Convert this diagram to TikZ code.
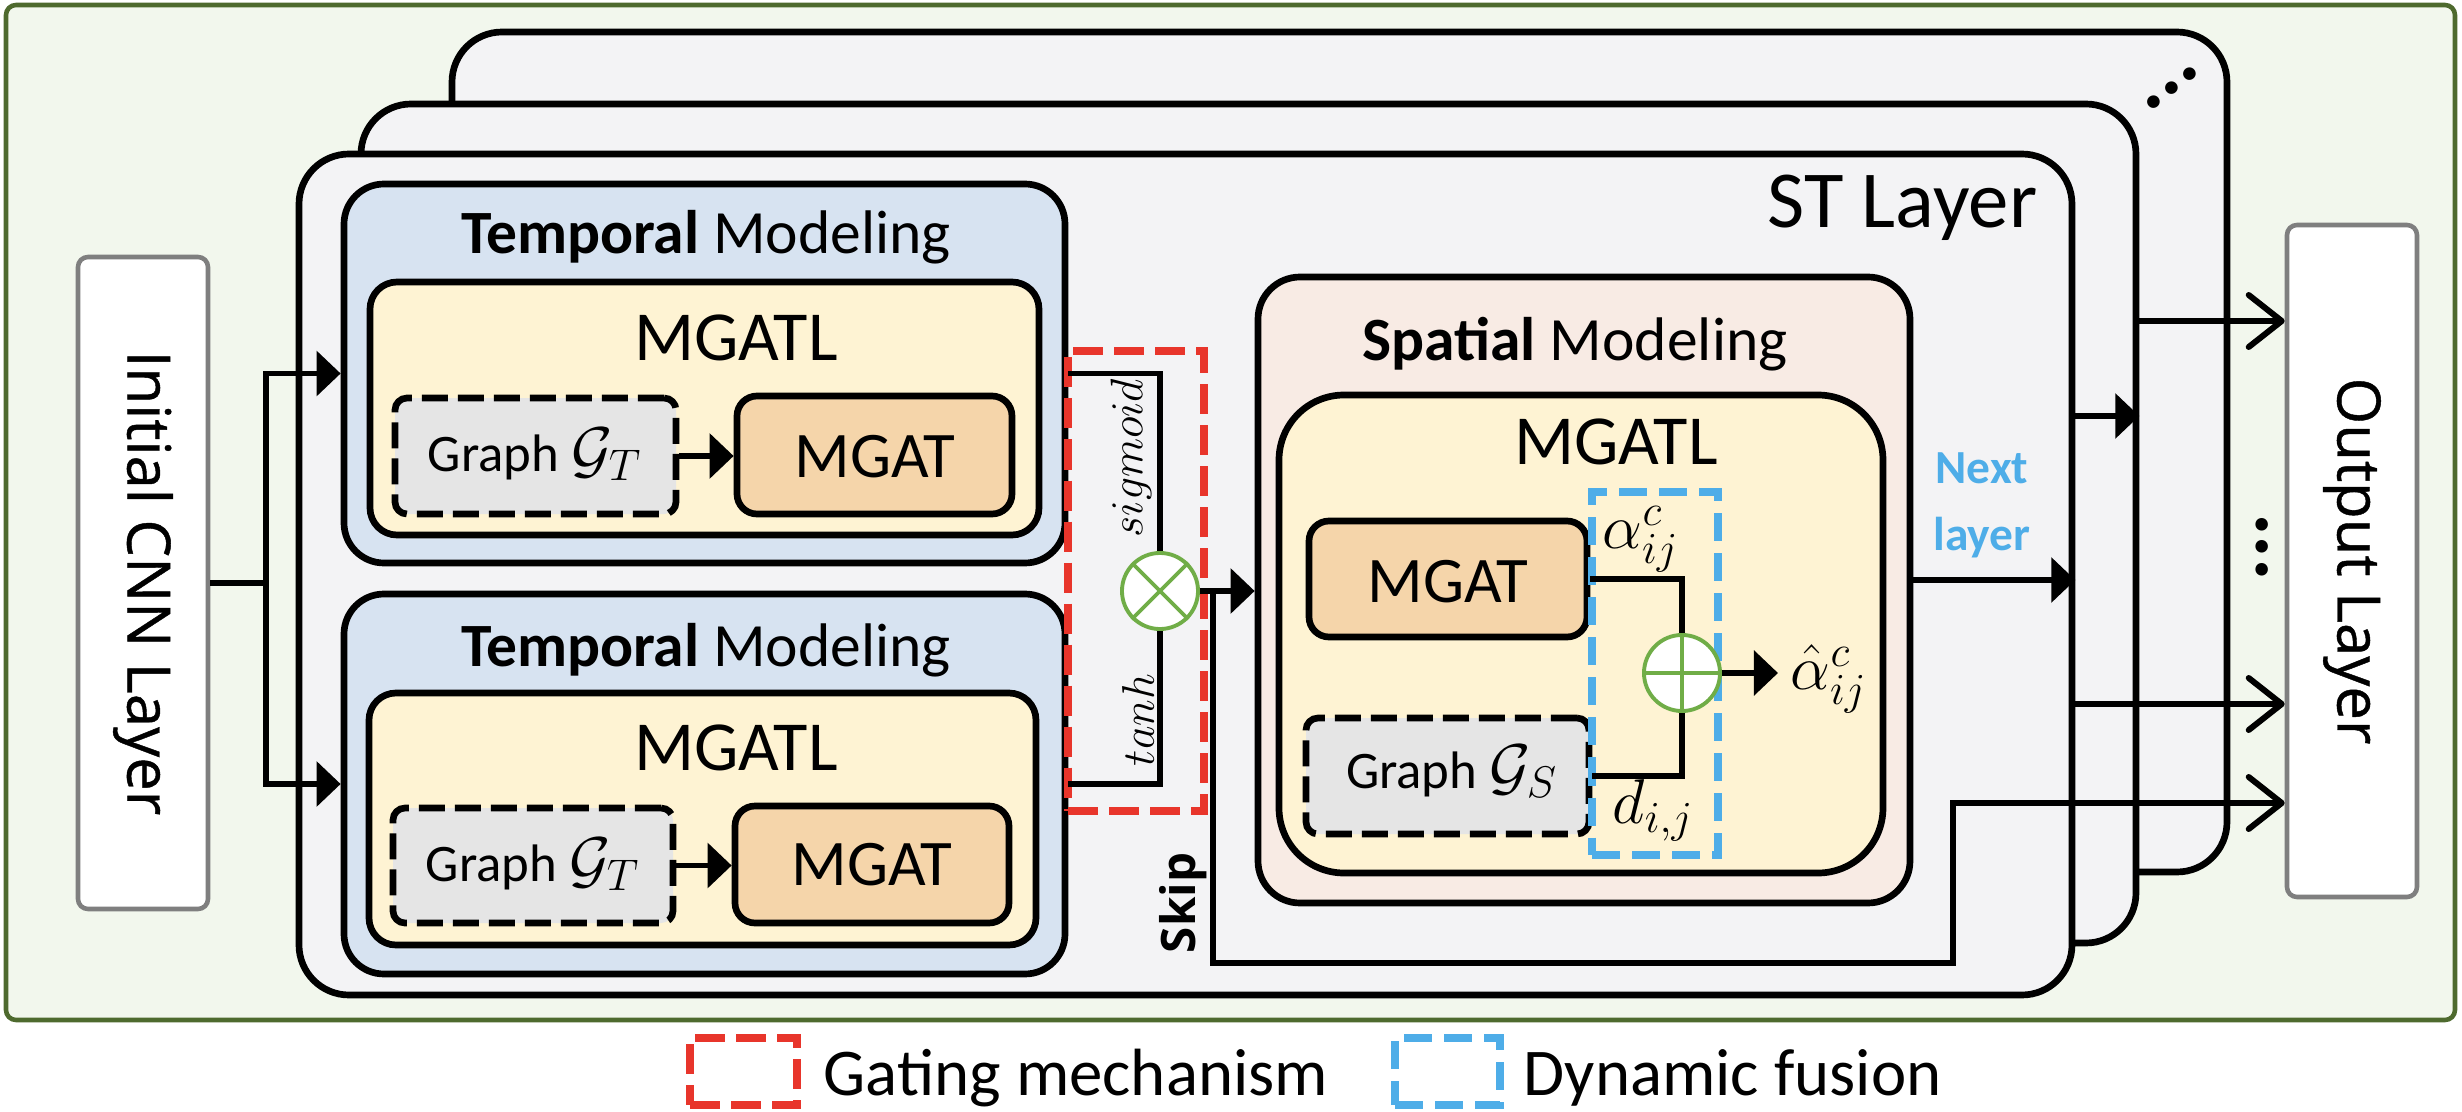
\RequirePackage{fix-cm}
\documentclass[tikz,border=0pt]{standalone}
\usepackage{fontspec}
\setmainfont{Carlito}
\newfontfamily\sidefont[FakeBold=0.7]{Open Sans}
\newfontfamily\skipfont{Open Sans}
\usetikzlibrary{arrows.meta,fit}

\definecolor{bggreen}{HTML}{F2F7ED}
\definecolor{bgborder}{HTML}{4E6A2E}
\definecolor{stgray}{HTML}{F3F3F5}
\definecolor{tempblue}{HTML}{D7E3F1}
\definecolor{mgatlyellow}{HTML}{FEF3D3}
\definecolor{mgatorange}{HTML}{F5D5AA}
\definecolor{graphgray}{HTML}{E5E5E5}
\definecolor{spatialpink}{HTML}{F8EBE4}
\definecolor{gatered}{HTML}{E8352B}
\definecolor{fuseblue}{HTML}{4EADE8}
\definecolor{opgreen}{HTML}{70AD47}
\definecolor{sidegray}{HTML}{7F7F7F}

\newcommand{\graphsym}[1]{{\fontsize{18}{20}\selectfont$\mathcal{G}_{#1}$}}

\begin{document}
\begin{tikzpicture}[x=0.01cm, y=-0.01cm,
    bgbox/.style={draw=bgborder, line width=1.3pt, fill=bggreen, rounded corners=0.1cm, inner sep=0pt},
    sidebox/.style={draw=sidegray, line width=1.3pt, fill=white, rounded corners=0.1cm, inner sep=0pt},
    layerbox/.style={draw=black, line width=1.9pt, fill=stgray, rounded corners=0.5cm, inner sep=0pt},
    tempbox/.style={draw=black, line width=1.9pt, fill=tempblue, rounded corners=0.4cm, inner sep=0pt},
    spatbox/.style={draw=black, line width=1.9pt, fill=spatialpink, rounded corners=0.42cm, inner sep=0pt},
    mgatlbox/.style={draw=black, line width=1.9pt, fill=mgatlyellow, rounded corners=0.27cm, inner sep=0pt},
    mgatbox/.style={draw=black, line width=1.9pt, fill=mgatorange, rounded corners=0.2cm, inner sep=0pt},
    graphbox/.style={draw=black, line width=1.9pt, fill=graphgray, rounded corners=0.12cm, inner sep=0pt,
        dash pattern=on 0.26cm off 0.1cm},
    gatebox/.style={draw=gatered, line width=2.3pt, inner sep=0pt, dash pattern=on 0.3cm off 0.11cm},
    fusebox/.style={draw=fuseblue, line width=2.5pt, inner sep=0pt, dash pattern=on 0.28cm off 0.12cm},
    opnode/.style={circle, draw=opgreen, line width=1.1pt, fill=white, minimum size=0.76cm, inner sep=0pt},
    conn/.style={line width=1.7pt},
    arr/.style={conn, -{Triangle[length=0.24cm,width=0.44cm]}},
    openarr/.style={conn, -{Straight Barb[length=0.33cm,width=0.52cm,round]}},
    txt/.style={inner sep=0pt},
    titlelabel/.style={txt, font=\fontsize{17.5}{21}\selectfont},
    mgatllabel/.style={txt, font=\fontsize{20}{24}\selectfont},
    mgatlabel/.style={txt, font=\fontsize{18.5}{22}\selectfont},
    graphlabel/.style={txt, font=\fontsize{15}{18}\selectfont},
    sidelabel/.style={txt, font=\sidefont\fontsize{17}{21}\selectfont},
    mathlabel/.style={txt, font=\fontsize{18}{21}\selectfont},
    gatelabel/.style={txt, font=\fontsize{13}{16}\selectfont},
    legendlabel/.style={txt, font=\fontsize{19}{23}\selectfont}]

    \useasboundingbox (0,0) rectangle (2462,1112);

    % Background
    \node[bgbox, fit={(6,5) (2455,1020)}] (bg) {};

    % Input and output
    \node[sidebox, fit={(78,257) (208,909)}] (cnn) {};
    \node[sidelabel, rotate=-90] (cnntext) at (cnn.center) {Initial CNN Layer};
    \node[sidebox, fit={(2287,225) (2417,897)}] (out) {};
    \node[sidelabel, rotate=-90] (outtext) at (out.center) {Output Layer};

    % Stacked ST layers
    \node[layerbox, fit={(452,32) (2227,872)}] (st3) {};
    \node[layerbox, fit={(361,104) (2136,943)}] (st2) {};
    \node[layerbox, fit={(299,154) (2072,995)}] (st1) {};
    \node[txt, anchor=base east, font=\fontsize{23}{27}\selectfont] (stlabel) at (2038,227) {ST Layer};
    \node[txt, rotate=38, font=\bfseries\fontsize{24}{28}\selectfont] (dotsA) at (2172,88) {...};
    \node[txt, rotate=-90, font=\bfseries\fontsize{24}{28}\selectfont] (dotsB) at (2262,547) {...};

    % Temporal modeling 1
    \node[tempbox, fit={(344,184) (1065,563)}] (tm1) {};
    \node[titlelabel, anchor=base] (tt1) at (706,253) {\textbf{Temporal} Modeling};
    \node[mgatlbox, fit={(370,282) (1039,535)}] (ml1) {};
    \node[mgatllabel, anchor=base] (mlt1) at (736,360) {MGATL};
    \node[graphbox, fit={(395,398) (676,514)}] (g1) {};
    \node[graphlabel, anchor=base] (gt1) at (535,471) {Graph \graphsym{T}};
    \node[mgatbox, fit={(737,396) (1012,514)}] (m1) {};
    \node[mgatlabel, anchor=base] (mt1) at (875,477) {MGAT};

    % Temporal modeling 2
    \node[tempbox, fit={(344,594) (1065,974)}] (tm2) {};
    \node[titlelabel, anchor=base] (tt2) at (706,666) {\textbf{Temporal} Modeling};
    \node[mgatlbox, fit={(369,693) (1036,945)}] (ml2) {};
    \node[mgatllabel, anchor=base] (mlt2) at (736,770) {MGATL};
    \node[graphbox, fit={(393,808) (673,923)}] (g2) {};
    \node[graphlabel, anchor=base] (gt2) at (533,881) {Graph \graphsym{T}};
    \node[mgatbox, fit={(735,806) (1009,923)}] (m2) {};
    \node[mgatlabel, anchor=base] (mt2) at (872,885) {MGAT};

    % Gating mechanism
    \node[gatebox, fit={(1068,351) (1204,811)}] (gate) {};
    \node[opnode] (mul) at (1160,591) {};
    \node[gatelabel, rotate=90] (sigtext) at (1131,458) {$sigmoid$};
    \node[gatelabel, rotate=90] (tanhtext) at (1138,720) {$tanh$};

    % Spatial modeling
    \node[spatbox, fit={(1258,277) (1910,903)}] (sp) {};
    \node[titlelabel, anchor=base] (spt) at (1575,360) {\textbf{Spatial} Modeling};
    \node[mgatlbox, rounded corners=0.65cm, fit={(1279,395) (1883,873)}] (sml) {};
    \node[mgatllabel, anchor=base] (smlt) at (1616,464) {MGATL};
    \node[mgatbox, fit={(1309,521) (1587,637)}] (smg) {};
    \node[mgatlabel, anchor=base] (smgt) at (1448,602) {MGAT};
    \node[graphbox, fit={(1306,718) (1589,834)}] (sgr) {};
    \node[graphlabel, anchor=base] (sgrt) at (1452,788) {Graph \graphsym{S}};

    % Dynamic fusion
    \node[fusebox, fit={(1592,492) (1718,855)}] (fuse) {};
    \node[opnode] (add) at (1682,673) {};
    \node[mathlabel, anchor=base west] (alab) at (1602,548) {$\alpha_{ij}^{c}$};
    \node[mathlabel, anchor=base west] (dlab) at (1612,823) {$d_{i,j}$};
    \node[mathlabel, anchor=base west, inner xsep=0.12cm] (ahat) at (1778,689) {$\hat{\alpha}_{ij}^{c}$};

    \node[txt, align=center, text=fuseblue, font=\bfseries\fontsize{13.5}{19}\selectfont] (nexttext) at (1982,505) {Next\\layer};
    \node[txt, rotate=90, font=\skipfont\bfseries\fontsize{13.5}{16}\selectfont] (skiptext) at (1183,903) {Skip};

    % Legend
    \node[gatebox, fit={(690,1038) (797,1105)}] (leggate) {};
    \node[legendlabel, anchor=base west] (leggatetext) at (823,1095) {Gating mechanism};
    \node[fusebox, fit={(1395,1038) (1500,1105)}] (legfuse) {};
    \node[legendlabel, anchor=base west] (legfusetext) at (1523,1095) {Dynamic fusion};

    % Operator signs
    \draw[opgreen, line width=1.1pt] (mul.north west) -- (mul.south east) (mul.north east) -- (mul.south west);
    \draw[opgreen, line width=1.1pt] (add.north) -- (add.south) (add.west) -- (add.east);

    \coordinate (split) at (266,583);
    \coordinate (skipA) at (1213,963);
    \coordinate (skipB) at (1953,963);
    \coordinate (skipC) at (1953,803);
    \coordinate (hopA) at (0,416);
    \coordinate (hopB) at (0,321);
    \coordinate (hopC) at (0,704);

    % Edges
    \draw[conn] (cnn.east) -- (split);
    \draw[arr] (split) |- (tm1.west);
    \draw[arr] (split) |- (tm2.west);
    \draw[arr] (g1.east) -- (g1.east -| m1.west);
    \draw[arr] (g2.east) -- (g2.east -| m2.west);
    \draw[conn] (tm1.east) -| (mul.north);
    \draw[conn] (tm2.east) -| (mul.south);
    \draw[arr] (mul.east) -- (mul.east -| sp.west);
    \draw[openarr] (mul.east -| skipA) -- (skipA) -- (skipB) -- (skipC) -- (skipC -| out.west);
    \draw[conn] (smg.east) -| (add.north);
    \draw[conn] (sgr.east) -| (add.south);
    \draw[arr] (add.east) -- (add.east -| ahat.west);
    \draw[arr] ([yshift=0.1cm]sp.east) -- ([yshift=0.1cm]sp.east -| st1.east);
    \draw[arr] (st1.east |- hopA) -- (st2.east |- hopA);
    \draw[openarr] (st2.east |- hopB) -- (out.west |- hopB);
    \draw[openarr] (st1.east |- hopC) -- (out.west |- hopC);
\end{tikzpicture}
\end{document}
